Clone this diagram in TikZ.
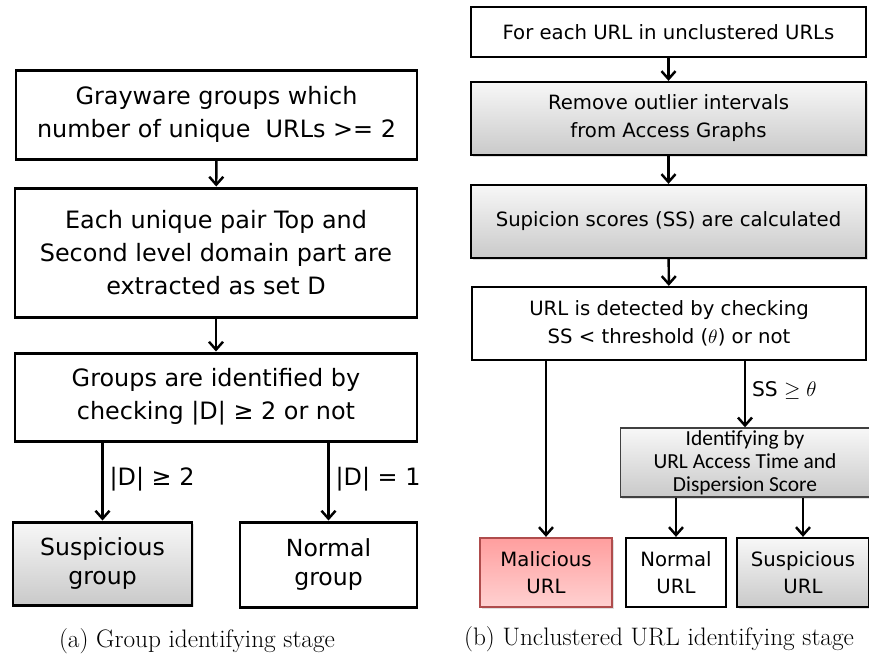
\documentclass[tikz,border=0pt]{standalone}
\usepackage{fontspec}
\setmainfont{Latin Modern Roman}
\newfontfamily\boxfont{DejaVu Sans}
\newfontfamily\smallboxfont{Carlito}
\usetikzlibrary{shadows,arrows.meta}

\begin{document}
\begin{tikzpicture}[x=0.02cm,y=-0.02cm,
        box/.style = {draw, line width=1.7pt, align=center, inner sep=0pt,
            font=\boxfont\fontsize{13.6}{18.8}\selectfont},
        rbox/.style = {box, line width=1.3pt,
            font=\boxfont\fontsize{11.2}{15.9}\selectfont},
        leaf/.style = {font=\boxfont\fontsize{11.2}{15.5}\selectfont},
        shade box/.style = {top color=gray!6, bottom color=gray!42,
            drop shadow={opacity=0.25, shadow xshift=1pt, shadow yshift=-1pt}},
        arrow/.style = {-{Straight Barb[length=4.5pt,width=8pt,line width=1.4pt]}, line width=1.4pt},
        cond/.style = {font=\boxfont\fontsize{13.6}{15}\selectfont, anchor=west},
    ]
    \useasboundingbox (0,0) rectangle (869,654);

    % Group identifying stage
    \node[box, minimum width=401*0.02cm, minimum height=89*0.02cm] (grp1) at (216.5,114.5)
        {Grayware groups which\\number of unique \ URLs >= 2};
    \node[box, minimum width=402*0.02cm, minimum height=129*0.02cm] (grp2) at (216,252.5)
        {Each unique pair Top and\\Second level domain part are\\extracted as set D};
    \node[box, minimum width=402*0.02cm, minimum height=88*0.02cm] (grp3) at (216,397)
        {Groups are identified by\\checking |D| ≥ 2 or not};
    \node[box, shade box, minimum width=179*0.02cm, minimum height=83*0.02cm,
        font=\boxfont\fontsize{13.4}{17}\selectfont] (sgroup) at (102.5,563.5)
        {Suspicious\\group};
    \node[box, minimum width=177*0.02cm, minimum height=85*0.02cm,
        font=\boxfont\fontsize{13.4}{17}\selectfont] (ngroup) at (328.5,564.5)
        {Normal\\group};

    \draw[arrow] (grp1) -- (grp2);
    \draw[arrow] (grp2) -- (grp3);
    \draw[arrow] (grp3.south -| sgroup.north) -- node[cond, pos=0.47] {|D| ≥ 2} (sgroup.north);
    \draw[arrow] (grp3.south -| ngroup.north) -- node[cond, pos=0.47] {|D| = 1} (ngroup.north);

    \node[font=\fontsize{14.4}{16}\selectfont] (capa) at (197,641) {(a) Group identifying stage};

    % Unclustered URL identifying stage
    \node[rbox, minimum width=395*0.02cm, minimum height=50*0.02cm] (url1) at (668.5,32)
        {For each URL in unclustered URLs};
    \node[rbox, shade box, minimum width=395*0.02cm, minimum height=73*0.02cm] (url2) at (668.5,118.5)
        {Remove outlier intervals\\from Access Graphs};
    \node[rbox, shade box, minimum width=395*0.02cm, minimum height=73*0.02cm] (url3) at (668.5,221.5)
        {Supicion scores (SS) are calculated};
    \node[rbox, minimum width=394*0.02cm, minimum height=73*0.02cm] (url4) at (669,323.5)
        {URL is detected by checking\\SS < threshold ($\theta$) or not};
    \node[rbox, shade box, line width=0.8pt, draw=black!75, minimum width=249*0.02cm, minimum height=69*0.02cm,
        font=\smallboxfont\fontsize{12.2}{13.2}\selectfont] (ident) at (745,462.5)
        {Identifying by\\URL Access Time and\\Dispersion Score};
    \node[rbox, leaf, top color=red!38!white, bottom color=red!18!white, draw=red!55!black!70,
        drop shadow={opacity=0.25, shadow xshift=1pt, shadow yshift=-1pt},
        minimum width=132*0.02cm, minimum height=69*0.02cm] (mal) at (546,572.5)
        {Malicious\\URL};
    \node[rbox, leaf, minimum width=100*0.02cm, minimum height=69*0.02cm] (nurl) at (676,572.5)
        {Normal\\URL};
    \node[rbox, leaf, shade box, minimum width=132*0.02cm, minimum height=69*0.02cm] (surl) at (803,572.5)
        {Suspicious\\URL};

    \draw[arrow] (url1) -- (url2);
    \draw[arrow] (url2) -- (url3);
    \draw[arrow] (url3) -- (url4);
    \draw[arrow] (url4.south -| mal.north) -- (mal.north);
    \draw[arrow] (url4.south -| ident.north) -- node[cond, pos=0.45, font=\boxfont\fontsize{11.5}{12}\selectfont] {SS $\geq \theta$} (ident.north);
    \draw[arrow] (ident.south -| nurl.north) -- (nurl.north);
    \draw[arrow] (ident.south -| surl.north) -- (surl.north);

    \node[font=\fontsize{14.4}{16}\selectfont] (capb) at (659,639) {(b) Unclustered URL identifying stage};

\end{tikzpicture}
\end{document}
